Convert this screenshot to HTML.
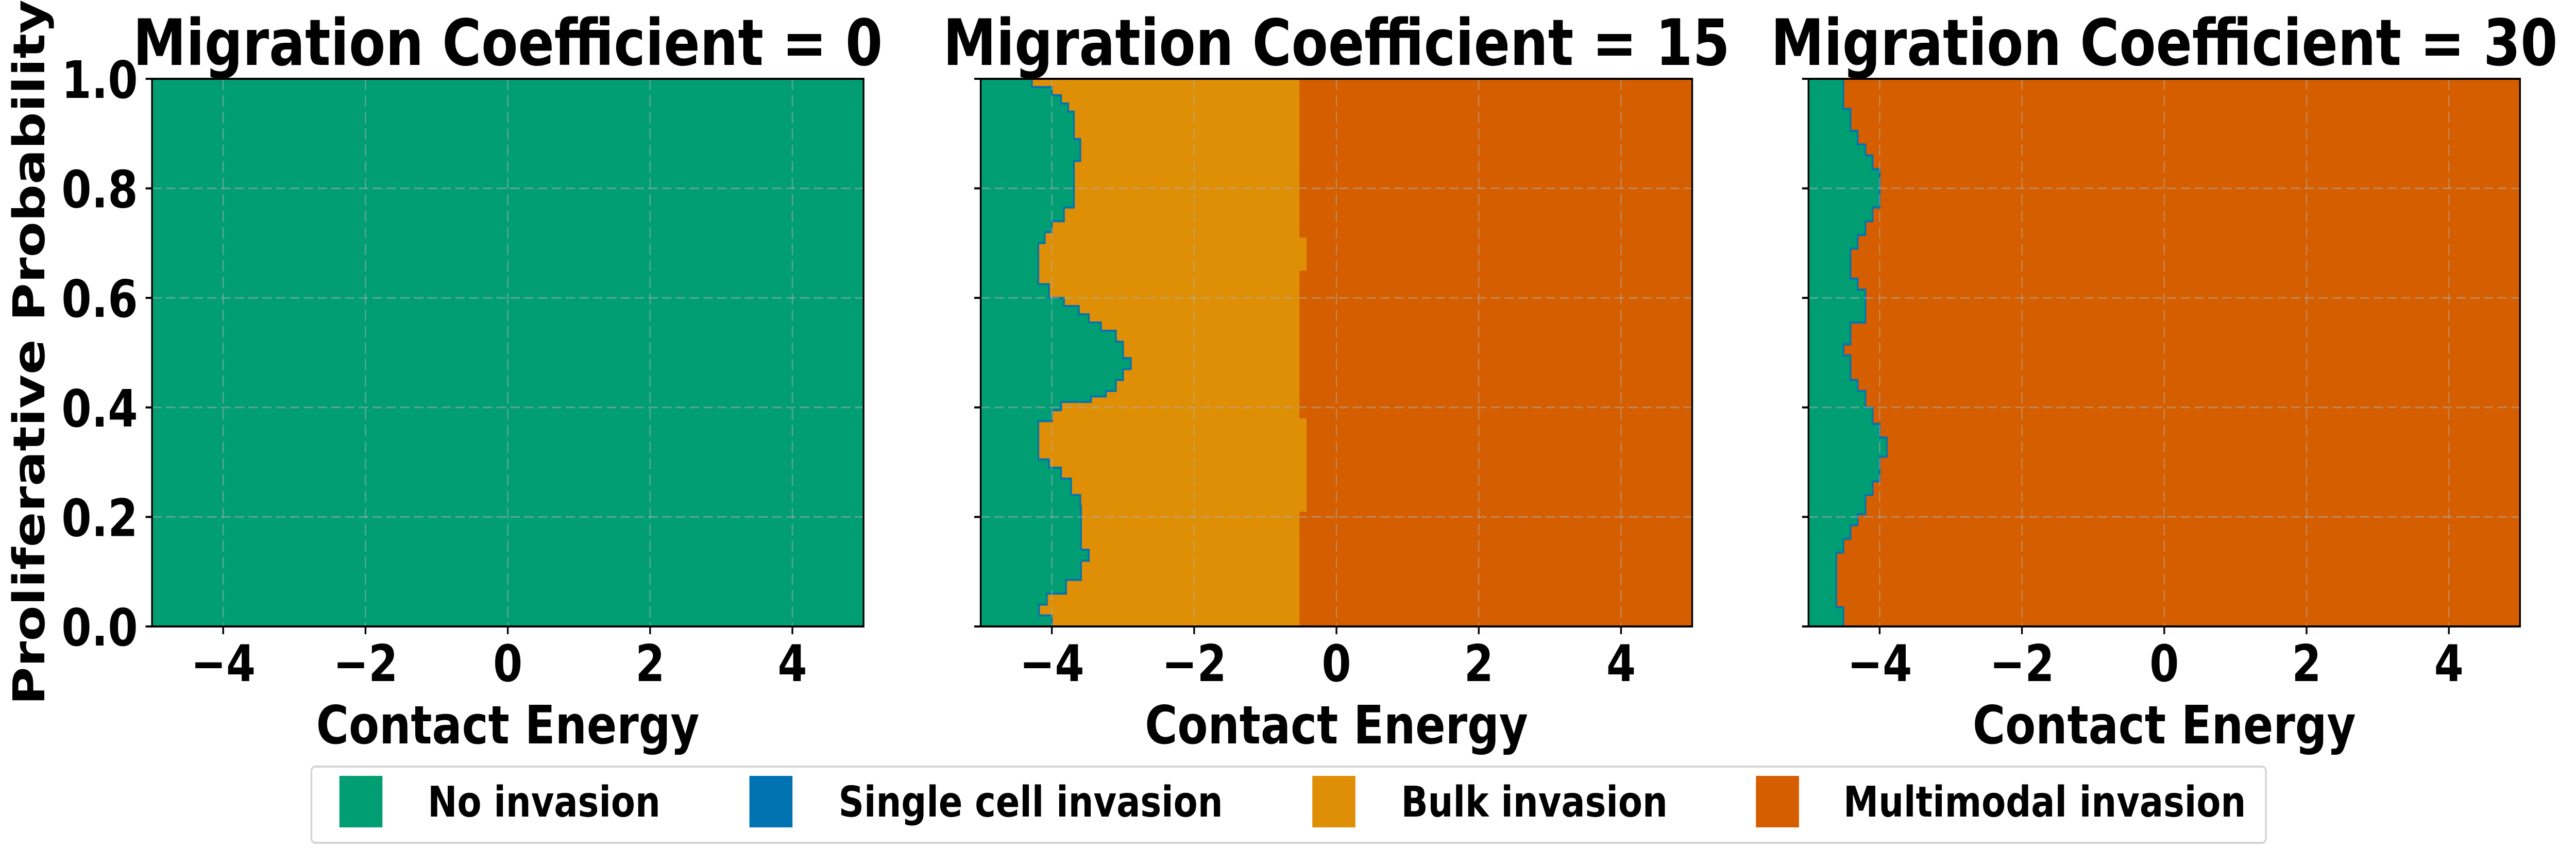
<!DOCTYPE html>
<html><head><meta charset="utf-8"><style>
html,body{margin:0;padding:0;background:#fff;overflow:hidden;width:100%;height:100%;}
svg{display:block;width:100vw;height:100vh;}
text{font-family:"DejaVu Sans","Liberation Sans",sans-serif;font-weight:bold;fill:#000;}
</style></head><body>
<svg id="chart" viewBox="0 0 5981 1679" preserveAspectRatio="none" xmlns="http://www.w3.org/2000/svg"></svg>
<script>
// ---- data ----
const xTicks = [-4, -2, 0, 2, 4];
const yTicks = [0.0, 0.2, 0.4, 0.6, 0.8, 1.0];
const yTickLabels = ["0.0", "0.2", "0.4", "0.6", "0.8", "1.0"];
const panelTitles = ["Migration Coefficient = 0", "Migration Coefficient = 15", "Migration Coefficient = 30"];
const categories = ["No invasion", "Single cell invasion", "Bulk invasion", "Multimodal invasion"];
const categoryColors = ["#029e73", "#0173b2", "#de8f05", "#d55e00"];

// Panel 1 (migration 0): entirely no invasion
const p1Breaks = [1.0, 0.0];
const p1NoInv = [5];

// Panel 2 (migration 15): no-invasion boundary (contact energy) per probability band
const p2Breaks = [1.0,0.985,0.97,0.955,0.94,0.89,0.85,0.765,0.74,0.72,0.70,0.625,0.60,0.585,0.57,0.555,0.54,0.52,0.49,0.47,0.45,0.43,0.42,0.41,0.395,0.375,0.305,0.29,0.27,0.24,0.22,0.14,0.12,0.085,0.06,0.04,0.02,0.0];
const p2NoInv = [-4.28,-4.0,-3.87,-3.77,-3.69,-3.6,-3.69,-3.83,-4.0,-4.1,-4.19,-4.04,-3.83,-3.62,-3.48,-3.31,-3.1,-3.0,-2.89,-3.0,-3.1,-3.24,-3.45,-3.87,-4.0,-4.19,-4.04,-3.87,-3.73,-3.6,-3.59,-3.48,-3.59,-3.8,-4.07,-4.18,-4.0];
const p2BulkBreaks = [1.0, 0.71, 0.65, 0.38, 0.21, 0.0];
const p2Bulk = [-0.52, -0.42, -0.52, -0.42, -0.52];

// Panel 3 (migration 30)
const p3Breaks = [1.0,0.945,0.905,0.88,0.86,0.835,0.765,0.74,0.715,0.69,0.635,0.615,0.555,0.515,0.495,0.45,0.43,0.40,0.37,0.345,0.31,0.265,0.24,0.205,0.185,0.16,0.135,0.035,0.0];
const p3NoInv = [-4.51,-4.41,-4.31,-4.2,-4.1,-4.0,-4.1,-4.2,-4.31,-4.41,-4.31,-4.2,-4.41,-4.51,-4.41,-4.31,-4.2,-4.1,-4.0,-3.9,-4.0,-4.1,-4.2,-4.31,-4.41,-4.51,-4.61,-4.51];

// ---- layout ----
const NS = "http://www.w3.org/2000/svg";
const svg = document.getElementById('chart');
const panelLefts = [353, 2277, 4199];
const PW = 1652, TOP = 153, BOT = 1216;
function mk(tag, attrs, parent) {
  const e = document.createElementNS(NS, tag);
  for (const k in attrs) e.setAttribute(k, attrs[k]);
  (parent || svg).appendChild(e);
  return e;
}
function xs(i, v) { return panelLefts[i] + (v + 5) / 10 * PW; }
function ys(p) { return BOT - p * (BOT - TOP); }

const panels = [
  { breaks: p1Breaks, noInv: p1NoInv, bulkBreaks: null, bulk: null, bg: categoryColors[0] },
  { breaks: p2Breaks, noInv: p2NoInv, bulkBreaks: p2BulkBreaks, bulk: p2Bulk, bg: categoryColors[3] },
  { breaks: p3Breaks, noInv: p3NoInv, bulkBreaks: null, bulk: null, bg: categoryColors[3] }
];

panels.forEach((pd, i) => {
  const g = mk('g', {});
  
  
  const bg = mk('rect', { x: panelLefts[i], y: TOP, width: PW, height: BOT - TOP, fill: pd.bg }, g);
  
  
  if (pd.bulk) {
    for (let k = 0; k < pd.bulk.length; k++) {
      const y0 = ys(pd.bulkBreaks[k]), y1 = ys(pd.bulkBreaks[k + 1]);
      const r = mk('rect', { x: panelLefts[i], y: y0, width: xs(i, pd.bulk[k]) - panelLefts[i], height: y1 - y0 + 0.5, fill: categoryColors[2] }, g);
      
      
    }
  }
  let d = '';
  for (let k = 0; k < pd.noInv.length; k++) {
    const y0 = ys(pd.breaks[k]), y1 = ys(pd.breaks[k + 1]);
    const xr = xs(i, pd.noInv[k]);
    const r = mk('rect', { x: panelLefts[i], y: y0, width: xr - panelLefts[i], height: y1 - y0 + 0.5, fill: categoryColors[0] }, g);
    
    
    d += (k === 0 ? 'M' : 'L') + xr + ' ' + y0 + ' L' + xr + ' ' + y1 + ' ';
  }
  if (i > 0) {
    const bl = mk('path', { d: d, fill: 'none', stroke: categoryColors[1], 'stroke-width': 4 }, g);
    
    
  }
  xTicks.forEach(t => {
    const l = mk('line', { x1: xs(i, t), x2: xs(i, t), y1: TOP, y2: BOT, stroke: '#b0b0b0', 'stroke-opacity': 0.5, 'stroke-width': 3, 'stroke-dasharray': '22 10' }, g);
    
    
  });
  yTicks.forEach(t => {
    const l = mk('line', { x1: panelLefts[i], x2: panelLefts[i] + PW, y1: ys(t), y2: ys(t), stroke: '#b0b0b0', 'stroke-opacity': 0.5, 'stroke-width': 3, 'stroke-dasharray': '22 10' }, g);
    
    
  });
  const sp = mk('rect', { x: panelLefts[i], y: TOP, width: PW, height: BOT - TOP, fill: 'none', stroke: '#000', 'stroke-width': 4 }, g);
  
  
  xTicks.forEach(t => {
    const l = mk('line', { x1: xs(i, t), x2: xs(i, t), y1: BOT, y2: BOT + 15, stroke: '#000', 'stroke-width': 4 }, g);
    
    
    const tx = mk('text', { x: xs(i, t), y: 1322, 'text-anchor': 'middle', 'font-size': 98 }, g);
    tx.textContent = (t < 0 ? '\u2212' : '') + Math.abs(t);
    
    
  });
  yTicks.forEach((t, k) => {
    const l = mk('line', { x1: panelLefts[i] - 15, x2: panelLefts[i], y1: ys(t), y2: ys(t), stroke: '#000', 'stroke-width': 4 }, g);
    
    
    if (i === 0) {
      const tx = mk('text', { x: 320, y: ys(t) + 37, 'text-anchor': 'end', 'font-size': 100 }, g);
      tx.textContent = yTickLabels[k];
      
      
    }
  });
  const ti = mk('text', { x: panelLefts[i] + PW / 2, y: 126, 'text-anchor': 'middle', 'font-size': 124 }, g);
  ti.textContent = panelTitles[i];
  
  
  const xl = mk('text', { x: panelLefts[i] + PW / 2, y: 1443, 'text-anchor': 'middle', 'font-size': 103 }, g);
  xl.textContent = 'Contact Energy';
  
  
});

const yl = mk('text', { transform: 'translate(103,684) rotate(-90)', 'text-anchor': 'middle', 'font-size': 101 });
yl.textContent = 'Proliferative Probability';



const lg = mk('g', {});


const lbox = mk('rect', { x: 723, y: 1488, width: 4538, height: 148, rx: 9, fill: '#fff', stroke: '#d4d4d4', 'stroke-width': 4 }, lg);


const swX = [788, 1740, 3047, 4077];
const txX = [993, 1947, 3253, 4280];
categories.forEach((c, k) => {
  const sq = mk('rect', { x: swX[k], y: 1506, width: 100, height: 100, fill: categoryColors[k] }, lg);
  
  
  const t = mk('text', { x: txX[k], y: 1585, 'font-size': 82 }, lg);
  t.textContent = c;
  
  
});
</script>
</body></html>
